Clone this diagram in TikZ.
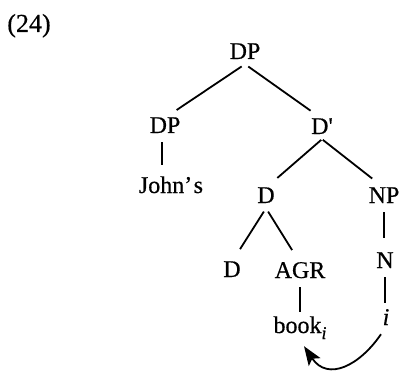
\documentclass[tikz,border=0pt]{standalone}
\usepackage{fontspec}
\setmainfont{Liberation Serif}[FakeBold=0.5,ItalicFeatures={FakeBold=0.5}]
\usetikzlibrary{arrows.meta}
\begin{document}
\begin{tikzpicture}[x=1pt,y=-1pt,
  lab/.style={anchor=base,inner sep=0pt,text height=15pt,text depth=5pt,font=\fontsize{24}{28}\selectfont},
  edge/.style={line width=1.8pt},
  branch/.style={edge,shorten <=4pt,shorten >=15pt},
  unary/.style={edge,shorten <=4pt,shorten >=7pt}]
\useasboundingbox (0,0) rectangle (403,371);
\node[anchor=base,inner sep=0pt,font=\fontsize{26}{28}\selectfont] (ex) at (29,32) {(24)};
\node[lab] (t) at (245,59) {DP};
\node[lab] (dpl) at (165,133) {DP};
\node[lab] (john) at (171,193) {John’\kern1.5pt s};
\node[lab] (dbar) at (322,134) {D\textquotesingle};
\node[lab] (d) at (266,203) {D};
\node[lab] (np) at (384,203) {NP};
\node[lab] (dl) at (232,277) {D};
\node[lab] (agr) at (300,278) {AGR};
\node[lab] (n) at (385,268) {N};
\node[lab] (i) at (386,325) {\itshape i};
\node[lab] (book) at (300,333) {book\raisebox{-6pt}{\fontsize{18}{18}\selectfont\itshape i}};
\draw[branch,shorten >=14pt] (t.south) -- (dpl.north);
\draw[branch,shorten >=14pt] (t.south) -- (dbar.north);
\draw[edge,shorten <=4pt,shorten >=13pt] ([xshift=-3pt]dpl.south) -- ([xshift=-3pt]dpl.south |- john.north);
\draw[branch,shorten <=1pt] (dbar.south) -- (d.north);
\draw[branch,shorten <=1pt] (dbar.south) -- (np.north);
\draw[branch] (d.south) -- (dl.north);
\draw[branch] (d.south) -- (agr.north);
\draw[branch] (np.south) -- (np.south |- n.north);
\draw[unary] (n.south) -- (n.south |- i.north);
\draw[unary,shorten >=6pt] (agr.south) -- (agr.south |- book.north);
\draw[edge,-{Stealth[length=19pt,width=14pt,inset=4pt]}] ([xshift=-5pt,yshift=-4pt]i.south) .. controls (360,365) and (328,382) .. ([xshift=4pt,yshift=-8pt]book.south);
\end{tikzpicture}
\end{document}
